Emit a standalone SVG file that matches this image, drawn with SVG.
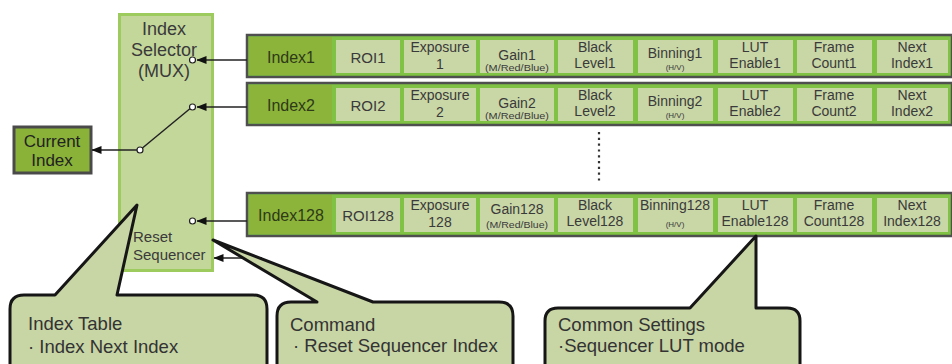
<svg xmlns="http://www.w3.org/2000/svg" width="952" height="364" viewBox="0 0 952 364">
<defs>
<marker id="ah" viewBox="0 0 10 8" refX="9.5" refY="4" markerWidth="10" markerHeight="8" markerUnits="userSpaceOnUse" orient="auto">
<path d="M0,0 L10,4 L0,8 Z" fill="#111"/>
</marker>
</defs>
<style>
text{font-family:"Liberation Sans",Arial,sans-serif;fill:#3a3a3a}
.row{fill:#80c243;stroke:#4f4f4f;stroke-width:2.5}
.idx{fill:#8cb33a}
.cell{fill:#c9d6a6}
.t{font-size:14px;text-anchor:middle}
.t1{font-size:15px;text-anchor:middle}
.ti{font-size:16px;text-anchor:middle;fill:#2e3a18}
.ts{font-size:8px;text-anchor:middle}
.tm{font-size:8.5px;text-anchor:middle}
.mux{fill:#c4d79b;stroke:#9dcb5e;stroke-width:3}
.wire{stroke:#222;stroke-width:1.5;fill:none}
.pin{fill:#fff;stroke:#222;stroke-width:1.2}
.call{fill:#c8d5a5;stroke:#161616;stroke-width:3;stroke-linejoin:round}
.ct{font-size:18.5px;fill:#333}
</style>
<rect width="952" height="364" fill="#fff"/>

<g id="mux">
<rect class="mux" x="119.5" y="14.5" width="93" height="256"/>
<text x="164" y="35" font-size="18" text-anchor="middle">Index</text>
<text x="164" y="56" font-size="18" text-anchor="middle">Selector</text>
<text x="164" y="77" font-size="18" text-anchor="middle">(MUX)</text>
<text x="133" y="242" font-size="15">Reset</text>
<text x="133" y="260" font-size="15">Sequencer</text>
</g>

<g id="current-index">
<rect x="14" y="127" width="77" height="46" fill="#8ab238" stroke="#4a4a4a" stroke-width="3"/>
<text x="52" y="147" font-size="17" text-anchor="middle" style="fill:#222">Current</text>
<text x="52" y="166" font-size="17" text-anchor="middle" style="fill:#222">Index</text>
</g>

<g id="row1">
<rect class="row" x="247" y="35" width="705" height="42"/>
<rect class="idx" x="249" y="37" width="83" height="38"/>
<rect class="cell" x="336" y="40" width="64" height="33"/>
<rect class="cell" x="404" y="40" width="72" height="33"/>
<rect class="cell" x="480" y="40" width="74" height="33"/>
<rect class="cell" x="558" y="40" width="75" height="33"/>
<rect class="cell" x="638" y="40" width="75" height="33"/>
<rect class="cell" x="718" y="40" width="75" height="33"/>
<rect class="cell" x="797" y="40" width="75" height="33"/>
<rect class="cell" x="877" y="40" width="71" height="33"/>
<text class="ti" x="291" y="63">Index1</text>
<text class="t1" x="368" y="63">ROI1</text>
<text class="t" x="440" y="52">Exposure</text>
<text class="t" x="440" y="69">1</text>
<text class="t" x="517" y="60">Gain1</text>
<text class="tm" x="517" y="71" textLength="64" lengthAdjust="spacingAndGlyphs">(M/Red/Blue)</text>
<text class="t" x="595" y="52">Black</text>
<text class="t" x="595" y="68">Level1</text>
<text class="t" x="675" y="58">Binning1</text>
<text class="ts" x="675" y="70">(H/V)</text>
<text class="t" x="755" y="52">LUT</text>
<text class="t" x="755" y="68">Enable1</text>
<text class="t" x="834" y="52">Frame</text>
<text class="t" x="834" y="68">Count1</text>
<text class="t" x="912" y="52">Next</text>
<text class="t" x="912" y="68">Index1</text>
</g>

<g id="row2">
<rect class="row" x="247" y="83" width="705" height="42"/>
<rect class="idx" x="249" y="85" width="83" height="38"/>
<rect class="cell" x="336" y="88" width="64" height="33"/>
<rect class="cell" x="404" y="88" width="72" height="33"/>
<rect class="cell" x="480" y="88" width="74" height="33"/>
<rect class="cell" x="558" y="88" width="75" height="33"/>
<rect class="cell" x="638" y="88" width="75" height="33"/>
<rect class="cell" x="718" y="88" width="75" height="33"/>
<rect class="cell" x="797" y="88" width="75" height="33"/>
<rect class="cell" x="877" y="88" width="71" height="33"/>
<text class="ti" x="291" y="111">Index2</text>
<text class="t1" x="368" y="111">ROI2</text>
<text class="t" x="440" y="100">Exposure</text>
<text class="t" x="440" y="117">2</text>
<text class="t" x="517" y="108">Gain2</text>
<text class="tm" x="517" y="119" textLength="64" lengthAdjust="spacingAndGlyphs">(M/Red/Blue)</text>
<text class="t" x="595" y="100">Black</text>
<text class="t" x="595" y="116">Level2</text>
<text class="t" x="675" y="106">Binning2</text>
<text class="ts" x="675" y="118">(H/V)</text>
<text class="t" x="755" y="100">LUT</text>
<text class="t" x="755" y="116">Enable2</text>
<text class="t" x="834" y="100">Frame</text>
<text class="t" x="834" y="116">Count2</text>
<text class="t" x="912" y="100">Next</text>
<text class="t" x="912" y="116">Index2</text>
</g>

<g id="row128">
<rect class="row" x="247" y="193" width="705" height="43"/>
<rect class="idx" x="249" y="195" width="83" height="39"/>
<rect class="cell" x="336" y="198" width="64" height="34"/>
<rect class="cell" x="404" y="198" width="72" height="34"/>
<rect class="cell" x="480" y="198" width="74" height="34"/>
<rect class="cell" x="558" y="198" width="75" height="34"/>
<rect class="cell" x="638" y="198" width="75" height="34"/>
<rect class="cell" x="718" y="198" width="75" height="34"/>
<rect class="cell" x="797" y="198" width="75" height="34"/>
<rect class="cell" x="877" y="198" width="71" height="34"/>
<text class="ti" x="291" y="221">Index128</text>
<text class="t1" x="368" y="221">ROI128</text>
<text class="t" x="440" y="210">Exposure</text>
<text class="t" x="440" y="227">128</text>
<text class="t" x="517" y="214">Gain128</text>
<text class="tm" x="517" y="228" textLength="62" lengthAdjust="spacingAndGlyphs">(M/Red/Blue)</text>
<text class="t" x="595" y="210">Black</text>
<text class="t" x="595" y="226">Level128</text>
<text class="t" x="675" y="210">Binning128</text>
<text class="ts" x="675" y="227">(H/V)</text>
<text class="t" x="755" y="210">LUT</text>
<text class="t" x="755" y="226">Enable128</text>
<text class="t" x="834" y="210">Frame</text>
<text class="t" x="834" y="226">Count128</text>
<text class="t" x="912" y="210">Next</text>
<text class="t" x="912" y="226">Index128</text>
</g>

<g id="connectors">
<line class="wire" x1="247" y1="60" x2="197" y2="60" marker-end="url(#ah)"/>
<line class="wire" x1="247" y1="107" x2="197" y2="107" marker-end="url(#ah)"/>
<line class="wire" x1="247" y1="221" x2="197" y2="221" marker-end="url(#ah)"/>
<line class="wire" x1="262" y1="258" x2="214" y2="258" marker-end="url(#ah)"/>
<line class="wire" x1="140" y1="150" x2="192" y2="107"/>
<line class="wire" x1="140" y1="150" x2="92" y2="150" marker-end="url(#ah)"/>
<circle class="pin" cx="192.5" cy="60" r="3"/>
<circle class="pin" cx="192.5" cy="107" r="3"/>
<circle class="pin" cx="192.5" cy="221" r="3"/>
<circle class="pin" cx="140" cy="150" r="3"/>
<line x1="599" y1="132" x2="599" y2="182" stroke="#333" stroke-width="2.2" stroke-dasharray="2.2,3.6"/>
</g>

<g id="callout-index-table">
<path class="call" d="M10,372 L10,309 Q10,295 24,295 L55,295 L137,205 L117,295 L253,295 Q267,295 267,309 L267,372"/>
<text class="ct" x="28" y="330">Index Table</text>
<text class="ct" x="28" y="353">· Index Next Index</text>
</g>

<g id="callout-command">
<path class="call" d="M277,372 L277,316 Q277,302 291,302 L317,302 L213,240 L373,302 L499,302 Q513,302 513,316 L513,372"/>
<text class="ct" x="290" y="331">Command</text>
<text class="ct" x="293" y="352">· Reset Sequencer Index</text>
</g>

<g id="callout-common">
<path class="call" d="M545,372 L545,321 Q545,308 558,308 L690,308 L756,236 L756,308 L787,308 Q800,308 800,321 L800,372"/>
<text class="ct" x="558" y="331">Common Settings</text>
<text class="ct" x="558" y="352">·Sequencer LUT mode</text>
</g>
</svg>
